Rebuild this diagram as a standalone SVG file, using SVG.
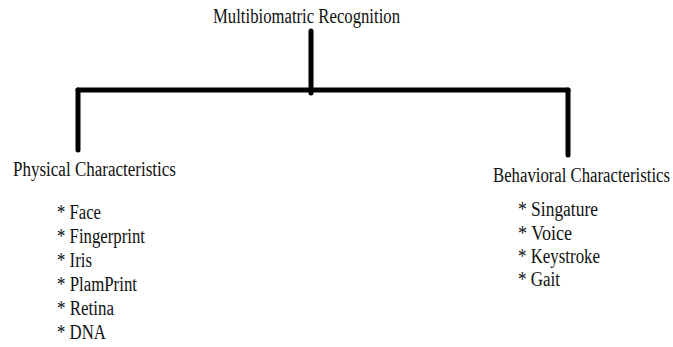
<svg xmlns="http://www.w3.org/2000/svg" width="673" height="347" viewBox="0 0 673 347">
<style>
text{font-family:'Liberation Serif','Times New Roman',serif;font-size:20px;fill:#111}
.ln{stroke:#000;stroke-width:5;stroke-linecap:round;fill:none}
</style>
<rect width="673" height="347" fill="#fff"/>
<g id="connectors">
<line class="ln" x1="311" y1="31" x2="311" y2="93"/>
<line class="ln" x1="78" y1="90" x2="568" y2="90"/>
<line class="ln" x1="78" y1="90" x2="78" y2="150"/>
<line class="ln" x1="568" y1="90" x2="568" y2="155"/>
</g>
<g id="root">
<text x="213" y="23" textLength="187" lengthAdjust="spacingAndGlyphs">Multibiomatric Recognition</text>
</g>
<g id="physical">
<text x="13" y="176" textLength="163" lengthAdjust="spacingAndGlyphs">Physical Characteristics</text>
<text x="57" y="219" textLength="44" lengthAdjust="spacingAndGlyphs">* Face</text>
<text x="57" y="243" textLength="88" lengthAdjust="spacingAndGlyphs">* Fingerprint</text>
<text x="57" y="267" textLength="35" lengthAdjust="spacingAndGlyphs">* Iris</text>
<text x="57" y="291" textLength="80" lengthAdjust="spacingAndGlyphs">* PlamPrint</text>
<text x="57" y="315" textLength="57" lengthAdjust="spacingAndGlyphs">* Retina</text>
<text x="57" y="339" textLength="49" lengthAdjust="spacingAndGlyphs">* DNA</text>
</g>
<g id="behavioral">
<text x="493" y="182" textLength="177" lengthAdjust="spacingAndGlyphs">Behavioral Characteristics</text>
<text x="518" y="216" textLength="80" lengthAdjust="spacingAndGlyphs">* Singature</text>
<text x="518" y="240" textLength="54" lengthAdjust="spacingAndGlyphs">* Voice</text>
<text x="518" y="263" textLength="82" lengthAdjust="spacingAndGlyphs">* Keystroke</text>
<text x="518" y="286" textLength="42" lengthAdjust="spacingAndGlyphs">* Gait</text>
</g>
</svg>
